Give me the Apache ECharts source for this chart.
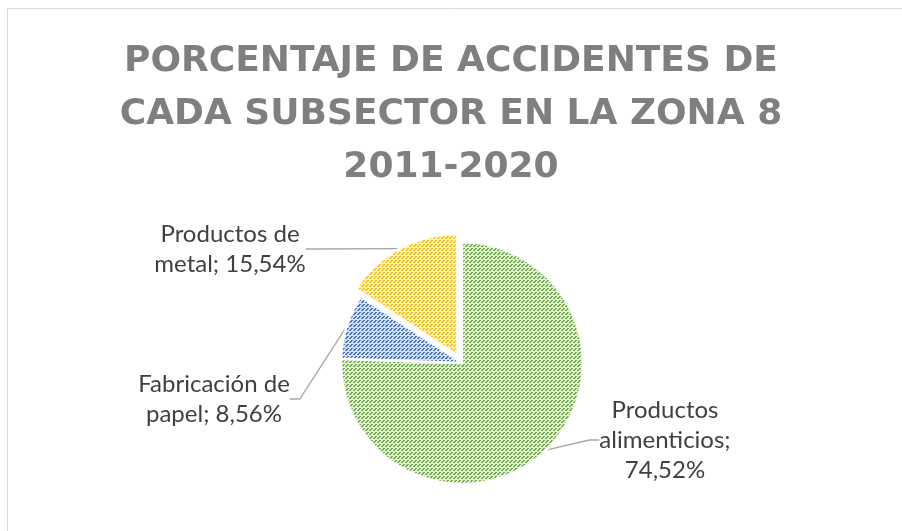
<!DOCTYPE html>
<html lang="es">
<head>
    <meta charset="UTF-8">
    <title>Porcentaje de accidentes - Zona 8</title>
    <script src="https://cdn.jsdelivr.net/npm/echarts/dist/echarts.min.js"></script>
    <style>
        html, body { margin: 0; padding: 0; background: #fff; }
        #main { width: 902px; height: 531px; }
    </style>
</head>
<body>
    <div id="main"></div>

    <script>
        // datos
        var categories = ['Productos alimenticios', 'Fabricación de papel', 'Productos de metal'];
        var values = [74.52, 8.56, 15.54];
        var labelTexts = ['Productos\nalimenticios;\n74,52%', 'Fabricación de\npapel; 8,56%', 'Productos de\nmetal; 15,54%'];
        var labelPos = [[665, 440], [214, 399], [230, 249]];
        var titleText = 'PORCENTAJE DE ACCIDENTES DE\nCADA SUBSECTOR EN LA ZONA 8\n2011-2020';
        // porción separada (índice 2)
        var explodedIndex = 2;

        // relleno con trama de guiones diagonales
        function makePattern(bg, fg) {
            var c = document.createElement('canvas');
            c.width = 8;
            c.height = 8;
            var ctx = c.getContext('2d');
            ctx.fillStyle = bg;
            ctx.fillRect(0, 0, 8, 8);
            ctx.fillStyle = fg;
            for (var y = 0; y < 8; y++) {
                for (var x = 0; x < 8; x++) {
                    var d = (x + y) % 4;
                    if ((d === 0 || d === 3) && y % 4 !== 3) {
                        ctx.fillRect(x, y, 1, 1);
                    }
                }
            }
            return { image: c, repeat: 'repeat' };
        }

        var fills = [
            makePattern('#e2efda', '#70ad47'),
            makePattern('#dae3f3', '#4472c4'),
            makePattern('#fff2cc', '#ffc000')
        ];

        // dos series: una con las porciones fijas y otra con la porción separada
        function buildData(showExploded) {
            return categories.map(function (name, i) {
                var visible = (i === explodedIndex) === showExploded;
                return {
                    name: name,
                    value: values[i],
                    itemStyle: visible ? { color: fills[i] } : { color: 'transparent', borderColor: 'transparent' },
                    label: { show: visible, formatter: labelTexts[i] },
                    labelLine: { show: visible }
                };
            });
        }

        var pieBase = {
            type: 'pie',
            radius: 121,
            startAngle: 90,
            clockwise: true,
            silent: true,
            itemStyle: { borderColor: '#ffffff', borderWidth: 2.5 },
            label: {
                position: 'outside',
                fontFamily: 'Lato',
                fontSize: 24,
                lineHeight: 30,
                color: '#404040',
                align: 'center'
            },
            labelLine: {
                length: 20,
                length2: 10,
                lineStyle: { color: '#a6a6a6', width: 1.3 }
            },
            labelLayout: function (params) {
                var p = labelPos[params.dataIndex];
                return { x: p[0], y: p[1], align: 'center', verticalAlign: 'middle' };
            }
        };

        var myChart = echarts.init(document.getElementById('main'));

        var option = {
            backgroundColor: '#ffffff',
            animation: false,
            title: {
                text: titleText,
                left: 'center',
                top: 30,
                textStyle: {
                    fontFamily: 'DejaVu Sans',
                    fontWeight: 'bold',
                    fontSize: 36,
                    lineHeight: 53,
                    color: '#7f7f7f'
                }
            },
            graphic: [{
                type: 'rect',
                shape: { x: 7.5, y: 8.5, width: 900, height: 530 },
                style: { fill: 'none', stroke: '#d9d9d9', lineWidth: 1 },
                silent: true
            }],
            series: [
                Object.assign({}, pieBase, { center: [462, 363], data: buildData(false) }),
                Object.assign({}, pieBase, { center: [457, 355], data: buildData(true) })
            ]
        };

        myChart.setOption(option);
    </script>
</body>
</html>
